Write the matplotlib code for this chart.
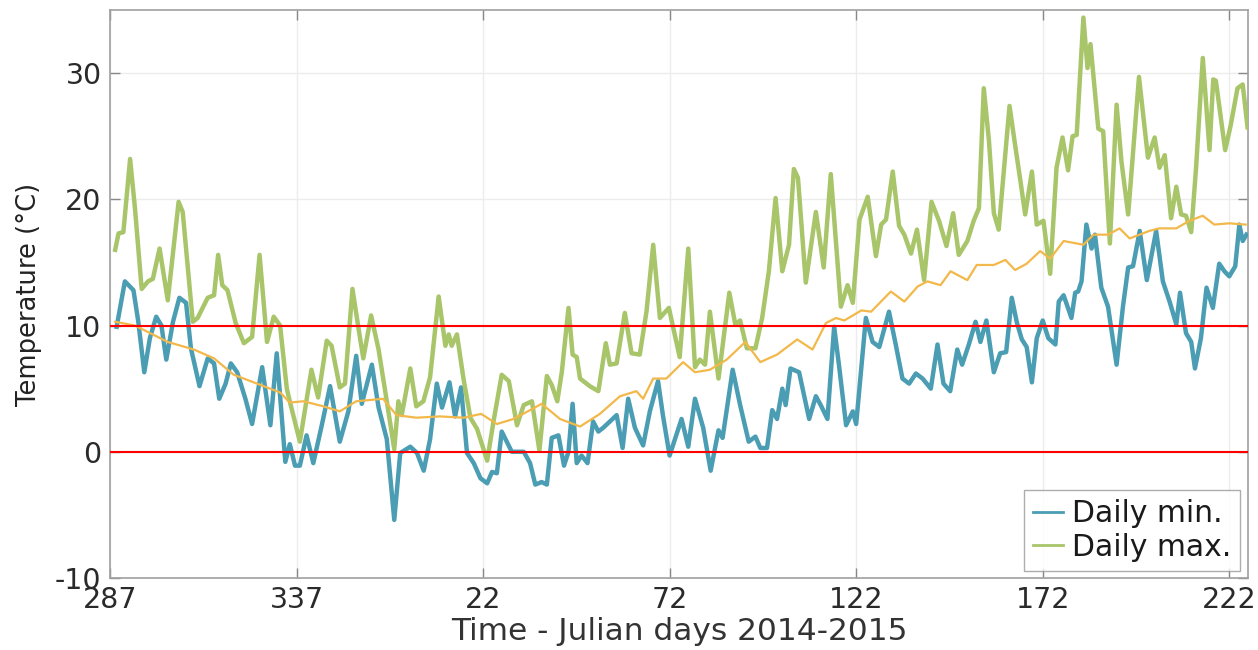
import matplotlib
matplotlib.use("Agg")
import matplotlib.pyplot as plt
from matplotlib.lines import Line2D

plt.rcParams["axes.unicode_minus"] = False

# Day offsets from Julian day 287 (2014)
max_days = [1.4, 2.3, 3.6, 5.4, 6.7, 8.5, 10.2, 11.5, 13.3, 15.5, 18.4, 19.5, 22.2, 23.5, 26.2, 27.9,
            29.0, 30.1, 31.5, 33.7, 35.9, 38.1, 40.1, 42.1, 43.9, 45.6, 47.4, 48.2, 50.9, 54.0, 55.8,
            58.1, 59.4, 61.6, 63.0, 65.0, 66.5, 67.9, 70.0, 72.0, 74.2, 76.2, 77.3, 78.2, 80.5, 82.1,
            84.0, 85.8, 88.1, 89.9, 90.8, 91.6, 93.0, 94.8, 96.6, 98.4, 101.1, 102.8, 105.0, 106.9,
            109.1, 110.9, 113.1, 115.1, 117.1, 118.4, 119.9, 121.1, 122.9, 124.0, 125.1, 126.0, 128.6,
            130.9, 132.9, 134.0, 135.8, 138.0, 139.8, 142.0, 143.8, 145.6, 147.4, 149.8, 152.7, 155.0,
            156.8, 158.1, 159.5, 160.8, 163.1, 166.0, 167.6, 168.9, 170.7, 173.0, 174.8, 176.6, 178.4,
            180.2, 182.0, 183.3, 184.4, 186.5, 189.2, 191.3, 193.2, 195.9, 197.7, 199.1, 200.9, 203.1,
            205.3, 206.7, 208.0, 209.8, 211.5, 212.9, 214.7, 216.3, 218.2, 220.2, 222.2, 224.2, 226.0,
            227.5, 229.8, 231.5, 232.9, 234.2, 235.6, 236.9, 238.2, 241.1, 242.6, 244.0, 245.3, 247.1,
            248.4, 250.2, 252.0, 253.7, 255.3, 256.8, 258.0, 259.1, 260.9, 262.0, 262.8, 264.9, 266.2,
            268.0, 269.8, 271.1, 272.9, 275.8, 278.2, 280.0, 281.3, 282.7, 284.4, 285.8, 287.1, 288.4,
            289.8, 291.1, 292.9, 294.7, 295.7, 296.4, 298.9, 300.4, 302.2, 303.6, 304.9]
max_vals = [16.0, 17.3, 17.4, 23.2, 19.3, 12.9, 13.5, 13.7, 16.1, 12.0, 19.8, 19.0, 10.3, 10.6, 12.2, 12.4,
            15.6, 13.2, 12.8, 10.2, 8.6, 9.1, 15.6, 8.7, 10.7, 10.0, 5.0, 4.0, 0.8, 6.5, 4.3,
            8.8, 8.4, 5.1, 5.4, 12.9, 10.0, 7.4, 10.8, 8.1, 4.0, 0.2, 4.0, 2.9, 6.6, 3.6,
            4.0, 5.9, 12.3, 8.4, 9.3, 8.4, 9.3, 5.7, 2.7, 1.8, -0.7, 2.4, 6.1, 5.6,
            2.1, 3.7, 4.0, 0.1, 6.0, 5.3, 4.0, 6.3, 11.4, 7.7, 7.5, 5.8, 5.2,
            4.8, 8.6, 6.9, 7.0, 11.0, 7.8, 7.7, 11.1, 16.4, 10.6, 11.4, 7.5, 16.1,
            6.7, 7.3, 6.9, 11.1, 5.8, 12.6, 10.1, 10.4, 8.2, 8.2, 10.6, 14.3, 20.1,
            14.3, 16.4, 22.4, 21.7, 13.4, 19.0, 14.6, 22.0, 11.5, 13.2, 11.8, 18.4, 20.2,
            15.5, 18.0, 18.4, 22.2, 17.9, 17.2, 15.7, 17.6, 13.6, 19.8, 18.3, 16.3, 18.9,
            15.6, 16.7, 18.3, 19.3, 28.8, 24.6, 18.9, 17.6, 27.4, 24.3, 21.5, 18.8, 22.2,
            18.0, 18.3, 14.1, 22.5, 24.9, 22.3, 25.0, 25.1, 34.4, 30.4, 32.3, 25.6, 25.4,
            16.5, 27.5, 23.0, 18.8, 29.7, 23.3, 24.9, 22.5, 23.5, 18.5, 21.0, 18.8, 18.7,
            17.4, 22.5, 31.2, 23.9, 29.5, 29.4, 23.9, 25.9, 28.8, 29.1, 25.7]

min_days = [1.8, 4.0, 6.3, 7.6, 9.2, 10.7, 12.4, 13.8, 15.1, 16.9, 18.6, 20.4, 21.7, 24.0, 26.2, 27.9,
            29.3, 31.0, 32.4, 34.1, 36.3, 38.1, 40.8, 43.0, 44.7, 47.0, 48.2, 49.6, 50.9, 52.7, 54.5,
            56.7, 59.0, 61.6, 63.9, 66.0, 67.5, 70.2, 72.0, 74.2, 76.2, 77.8, 80.5, 82.3, 84.1, 85.8,
            87.6, 89.0, 91.0, 92.5, 94.1, 95.7, 97.5, 99.3, 101.1, 102.4, 103.7, 105.0, 107.7, 110.9,
            112.6, 114.0, 115.7, 117.1, 118.4, 120.2, 121.7, 122.9, 124.0, 125.1, 126.4, 128.0, 129.5,
            130.9, 132.2, 134.0, 135.8, 137.4, 138.9, 140.7, 142.9, 144.7, 146.9, 148.2, 150.0, 153.2,
            155.0, 156.8, 159.0, 161.0, 163.1, 164.2, 166.9, 168.9, 171.2, 173.0, 174.3, 176.1, 177.5,
            178.8, 180.2, 181.1, 182.4, 184.7, 187.4, 189.2, 190.5, 192.3, 194.1, 195.5, 197.3, 199.1,
            200.0, 202.6, 204.4, 206.2, 208.8, 210.6, 212.4, 214.2, 216.0, 217.8, 220.0, 221.8, 223.4,
            225.2, 227.1, 228.4, 230.2, 232.0, 233.3, 234.9, 236.9, 238.6, 240.2, 241.7, 243.1, 244.4,
            245.7, 247.1, 248.4, 250.0, 251.5, 253.4, 254.3, 255.6, 257.7, 258.7, 259.5, 260.4, 261.7,
            263.1, 264.0, 265.7, 267.5, 269.8, 271.5, 272.9, 274.2, 276.0, 277.9, 280.4, 282.2, 284.0,
            285.8, 286.8, 288.4, 289.8, 290.8, 292.4, 293.9, 295.6, 297.3, 298.7, 300.0, 301.6, 302.7,
            303.6, 304.6]
min_vals = [9.9, 13.5, 12.8, 10.3, 6.3, 9.0, 10.7, 10.0, 7.3, 10.3, 12.2, 11.8, 8.2, 5.2, 7.4, 7.0,
            4.2, 5.4, 7.0, 6.3, 4.2, 2.2, 6.7, 2.1, 7.8, -0.8, 0.6, -1.1, -1.1, 1.3, -0.9,
            2.0, 5.2, 0.8, 3.2, 7.6, 3.8, 6.9, 3.5, 1.0, -5.4, -0.1, 0.4, -0.1, -1.5, 1.0,
            5.4, 3.5, 5.5, 2.8, 5.1, -0.1, -0.9, -2.1, -2.5, -1.6, -1.7, 1.6, 0.0, 0.0,
            -0.9, -2.6, -2.4, -2.6, 1.1, 1.3, -1.1, 0.0, 3.8, -0.9, -0.3, -0.9, 2.4,
            1.6, 1.9, 2.4, 2.9, 0.3, 4.2, 1.9, 0.5, 3.2, 5.6, 2.9, -0.3, 2.6,
            0.4, 4.2, 1.9, -1.5, 1.7, 1.1, 6.5, 3.7, 0.8, 1.2, 0.3, 0.3, 3.3,
            2.6, 5.0, 3.7, 6.6, 6.3, 2.6, 4.4, 3.7, 2.6, 9.9, 6.6, 2.1, 3.2,
            2.2, 10.6, 8.7, 8.3, 11.1, 8.5, 5.8, 5.4, 6.2, 5.8, 5.0, 8.5, 5.4,
            4.8, 8.1, 6.9, 8.5, 10.3, 8.7, 10.4, 6.3, 7.8, 7.9, 12.2, 10.2, 8.9,
            8.3, 5.5, 9.0, 10.4, 9.0, 8.5, 11.9, 12.4, 10.6, 12.6, 12.7, 13.5, 18.0,
            16.1, 17.2, 13.0, 11.5, 6.9, 11.5, 14.6, 14.7, 17.5, 13.6, 17.5, 13.5, 11.9,
            10.1, 12.6, 9.4, 8.7, 6.6, 9.0, 13.0, 11.4, 14.9, 14.3, 13.9, 14.7, 18.0,
            16.7, 17.2]

mean_days = [1.4, 6.7, 15.5, 22.5, 27.9, 33.2, 40.3, 45.6, 48.2, 51.8, 57.2, 61.6, 66.0, 73.2, 76.8,
             82.1, 88.4, 94.8, 99.5, 103.7, 108.2, 112.6, 115.7, 120.6, 126.0, 131.3, 136.7, 141.1,
             142.9, 145.6, 149.1, 153.6, 156.8, 160.8, 165.3, 170.3, 174.3, 178.8, 184.2, 188.3,
             191.9, 194.6, 196.8, 201.4, 204.0, 209.3, 212.9, 216.5, 219.1, 222.6, 225.3, 229.8,
             232.3, 236.9, 240.0, 242.6, 245.7, 249.3, 252.0, 255.6, 260.9, 263.6, 267.5, 270.6,
             273.3, 278.6, 281.3, 285.8, 289.3, 292.9, 296.0, 300.0, 304.4]
mean_vals = [10.3, 10.0, 8.7, 8.1, 7.4, 6.1, 5.3, 4.7, 3.9, 4.0, 3.6, 3.2, 4.0, 4.2, 2.9,
             2.7, 2.8, 2.7, 3.0, 2.2, 2.6, 3.3, 3.8, 2.6, 2.0, 3.0, 4.4, 4.8,
             4.2, 5.8, 5.8, 7.1, 6.3, 6.5, 7.3, 8.7, 7.1, 7.7, 8.9, 8.1,
             10.2, 10.6, 10.4, 11.2, 11.1, 12.7, 11.9, 13.1, 13.5, 13.2, 14.3, 13.6,
             14.8, 14.8, 15.2, 14.4, 14.9, 15.9, 15.3, 16.7, 16.4, 17.2, 17.2, 17.7,
             16.9, 17.5, 17.7, 17.7, 18.3, 18.7, 18.0, 18.1, 18.0]

xtick_pos = [0, 50, 100, 150, 200, 250, 300]
xtick_labels = ["287", "337", "22", "72", "122", "172", "222"]
ytick_pos = [-10, 0, 10, 20, 30]
ref_levels = [0, 10]

MIN_COLOR = "#4b9db3"
MAX_COLOR = "#a8c56a"

fig = plt.figure(figsize=(12.58, 6.5), dpi=100)
ax = fig.add_axes([0.0874, 0.1108, 0.9046, 0.8738])

ax.plot(min_days, min_vals, color=MIN_COLOR, lw=3.2, solid_joinstyle="round", zorder=3)
ax.plot(max_days, max_vals, color=MAX_COLOR, lw=3.2, solid_joinstyle="round", zorder=3)
ax.plot(mean_days, mean_vals, color="#f2b84a", lw=1.6, zorder=4)
for lvl in ref_levels:
    ax.axhline(lvl, color="#ff0000", lw=1.5, zorder=5)

ax.set_xlim(0, 305)
ax.set_ylim(-10, 35)
ax.set_xticks(xtick_pos)
ax.set_xticklabels(xtick_labels)
ax.set_yticks(ytick_pos)
ax.tick_params(axis="both", direction="in", length=7, width=1, color="#888888",
               labelsize=20.5, labelcolor="#2a2a2a", top=True, right=True, pad=6)
ax.grid(True, color="#ececec", lw=1, zorder=0)
ax.set_axisbelow(True)
for s in ax.spines.values():
    s.set_color("#a0a0a0")
    s.set_linewidth(1.2)

ax.set_xlabel("Time - Julian days 2014-2015", fontsize=22.5, color="#333333", labelpad=2)
ax.set_ylabel("Temperature (°C)", fontsize=18.5, color="#222222")
ax.yaxis.set_label_coords(-0.060, 0.5)

handles = [Line2D([], [], color=MIN_COLOR, lw=2), Line2D([], [], color=MAX_COLOR, lw=2)]
leg = ax.legend(handles, ["Daily min.", "Daily max."], loc="lower right", fontsize=21.5,
                frameon=True, fancybox=False, edgecolor="#999999", handlelength=1.0,
                handletextpad=0.3, borderaxespad=0.25, labelspacing=0.15, borderpad=0.3)
leg.get_frame().set_linewidth(1.0)
for t in leg.get_texts():
    t.set_color("#1a1a1a")

fig.savefig("out.png", dpi=100)
